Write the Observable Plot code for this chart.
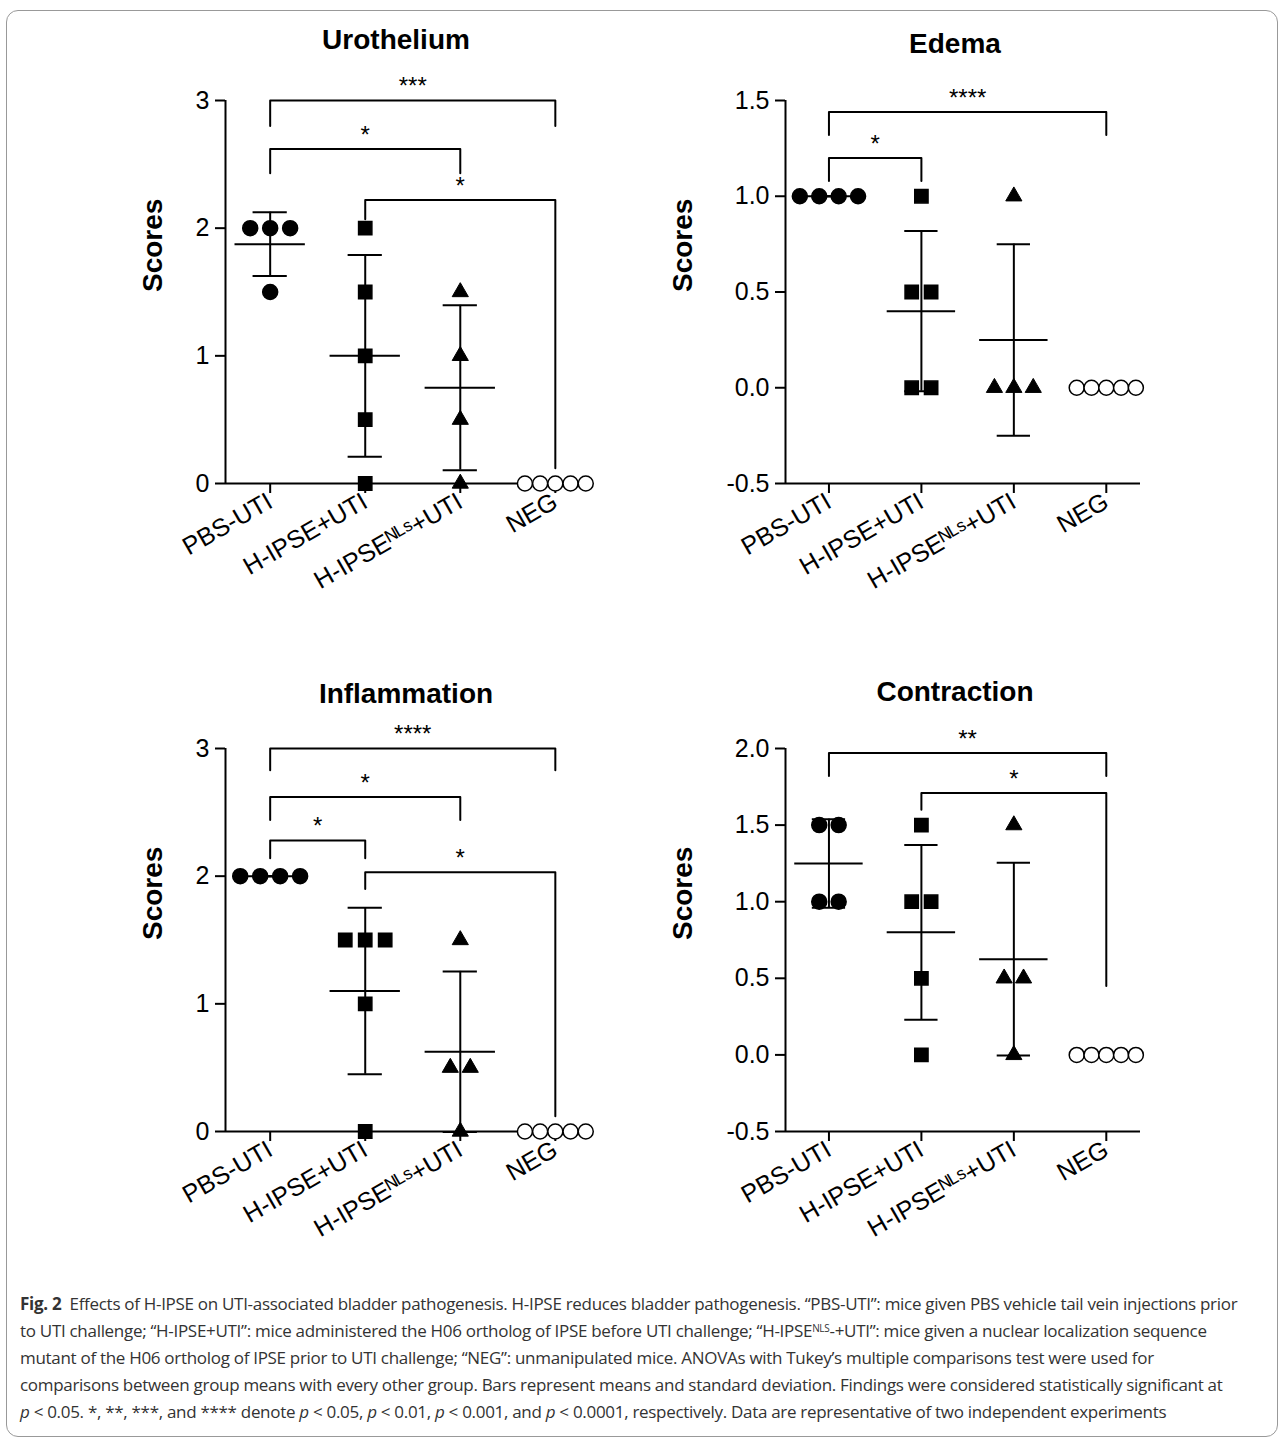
<!DOCTYPE html>
<html><head><meta charset="utf-8">
<script src="https://cdn.jsdelivr.net/npm/d3@7"></script>
<script src="https://cdn.jsdelivr.net/npm/@observablehq/plot@0.6"></script>
<style>
body{margin:0;background:#fff;font-family:"Liberation Sans",Arial,sans-serif;}
#page{position:relative;width:1282px;height:1445px;}
#frame{position:absolute;left:6px;top:10px;width:1272px;height:1427px;border:1px solid #999;border-radius:12px;box-sizing:border-box;}
.panel{position:absolute;}
.panel svg text{font-family:"Liberation Sans",Arial,sans-serif;}
.title{position:absolute;font-weight:bold;font-size:28px;text-align:center;width:400px;}
#cap{position:absolute;left:20px;top:1290px;width:1236px;font-family:"Open Sans",sans-serif;font-size:17px;line-height:27px;color:#333;letter-spacing:-0.3px;}
#cap sup{font-size:10px;line-height:0;vertical-align:5px;}
</style></head><body>
<div id="page"><div id="frame"></div>
<div id="cap"><b>Fig. 2</b>&nbsp; Effects of H-IPSE on UTI-associated bladder pathogenesis. H-IPSE reduces bladder pathogenesis. “PBS-UTI”: mice given PBS vehicle tail vein injections prior to UTI challenge; “H-IPSE+UTI”: mice administered the H06 ortholog of IPSE before UTI challenge; “H-IPSE<sup>NLS</sup>-+UTI”: mice given a nuclear localization sequence mutant of the H06 ortholog of IPSE prior to UTI challenge; “NEG”: unmanipulated mice. ANOVAs with Tukey’s multiple comparisons test were used for comparisons between group means with every other group. Bars represent means and standard deviation. Findings were considered statistically significant at <i>p</i>&nbsp;&lt;&nbsp;0.05. *, **, ***, and **** denote <i>p</i>&nbsp;&lt;&nbsp;0.05, <i>p</i>&nbsp;&lt;&nbsp;0.01, <i>p</i>&nbsp;&lt;&nbsp;0.001, and <i>p</i>&nbsp;&lt;&nbsp;0.0001, respectively. Data are representative of two independent experiments</div>
</div>
<script>
const groups = ["PBS-UTI", "H-IPSE+UTI", "H-IPSEᴺᴸˢ+UTI", "NEG"];
const symbols = ["circle", "square", "triangle", "circle"];

const urothelium = [[2, 2, 2, 1.5], [2, 1.5, 1, 0.5, 0], [1.5, 1, 0.5, 0], [0, 0, 0, 0, 0]];
const edema = [[1, 1, 1, 1], [1, 0.5, 0.5, 0, 0], [1, 0, 0, 0], [0, 0, 0, 0, 0]];
const inflammation = [[2, 2, 2, 2], [1.5, 1.5, 1.5, 1, 0], [1.5, 0.5, 0.5, 0], [0, 0, 0, 0, 0]];
const contraction = [[1.5, 1.5, 1, 1], [1.5, 1, 1, 0.5, 0], [1.5, 0.5, 0.5, 0], [0, 0, 0, 0, 0]];

// brackets: [from group, to group, bar y, left leg end, right leg end, label]
const uroBrackets = [[0, 3, 3.0, 2.8, 2.8, "***"], [0, 2, 2.62, 2.43, 2.43, "*"], [1, 3, 2.22, 2.07, 0.12, "*"]];
const edemaBrackets = [[0, 3, 1.44, 1.32, 1.32, "****"], [0, 1, 1.2, 1.08, 1.08, "*"]];
const inflBrackets = [[0, 3, 3.0, 2.83, 2.83, "****"], [0, 2, 2.62, 2.44, 2.44, "*"], [0, 1, 2.28, 2.14, 2.14, "*"], [1, 3, 2.03, 1.9, 0.12, "*"]];
const contrBrackets = [[0, 3, 1.97, 1.82, 1.82, "**"], [1, 3, 1.71, 1.6, 0.45, "*"]];

function panel(vals, brackets, yDomain, yTicks, fmt, opts) {
  const pts = [];
  vals.forEach((vs, g) => {
    const counts = d3.rollup(vs, v => v.length, v => v);
    const seen = new Map();
    vs.forEach(v => {
      const k = seen.get(v) || 0; seen.set(v, k + 1);
      const n = counts.get(v);
      const sp = g === 3 ? 0.16 : 0.21;
      pts.push({g, v, x: g + (k - (n - 1) / 2) * sp});
    });
  });
  const stats = vals.map((vs, g) => ({g, m: d3.mean(vs), sd: d3.deviation(vs)}));
  const bl = [], bt = [];
  brackets.forEach(([a, b, y, l1, l2, lab], i) => {
    bl.push({i, x: a, y: l1}, {i, x: a, y}, {i, x: b, y}, {i, x: b, y: l2});
    bt.push({x: (a + b) / 2, y, lab});
  });
  return Plot.plot({
    width: opts.width, height: 573,
    marginLeft: opts.ml, marginRight: opts.width - opts.ml - opts.pw, marginTop: 40, marginBottom: 150,
    style: {fontFamily: '"Liberation Sans", Arial, sans-serif', fontSize: "25px", overflow: "visible"},
    x: {domain: [-0.47, 3.37]},
    y: {domain: yDomain},
    symbol: {domain: [0, 1, 2, 3], range: symbols},
    marks: [
      Plot.axisY({ticks: yTicks, tickFormat: fmt, tickSize: 10, tickPadding: 6, strokeWidth: 2, fontSize: 25, label: null}),
      Plot.text(["Scores"], {frameAnchor: "left", dx: -opts.lo, rotate: -90, fontSize: 28, fontWeight: "bold"}),
      Plot.axisX({ticks: [0, 1, 2, 3], tickFormat: i => groups[i], tickSize: 10, tickRotate: -30, tickPadding: 6, strokeWidth: 2, fontSize: 25, label: null}),
      Plot.ruleY([yDomain[0]], {strokeWidth: 2}),
      Plot.ruleX([-0.47], {strokeWidth: 2}),
      Plot.ruleX(stats, {x: "g", y1: d => d.m - d.sd, y2: d => d.m + d.sd, strokeWidth: 2}),
      Plot.ruleY(stats, {y: "m", x1: d => d.g - 0.37, x2: d => d.g + 0.37, strokeWidth: 2}),
      Plot.ruleY(stats, {y: d => d.m + d.sd, x1: d => d.g - 0.18, x2: d => d.g + 0.18, strokeWidth: 2}),
      Plot.ruleY(stats, {y: d => d.m - d.sd, x1: d => d.g - 0.18, x2: d => d.g + 0.18, strokeWidth: 2}),
      Plot.dot(pts.filter(d => d.g !== 2), {x: "x", y: "v", symbol: "g", r: 7.5, fill: d => d.g === 3 ? "white" : "black", stroke: "black", strokeWidth: 1.5}),
      Plot.dot(pts.filter(d => d.g === 2), {x: "x", y: "v", symbol: "g", r: 6, fill: "black", stroke: "black", strokeWidth: 1}),
      Plot.line(bl, {x: "x", y: "y", z: "i", strokeWidth: 2, curve: "linear"}),
      Plot.text(bt, {x: "x", y: "y", text: "lab", dy: -14, fontSize: 24})
    ]
  });
}

function place(title, chart, left, top, titleLeft, titleTop) {
  const d = document.createElement("div"); d.className = "panel";
  d.style.left = left + "px"; d.style.top = top + "px";
  d.appendChild(chart);
  document.getElementById("page").appendChild(d);
  const t = document.createElement("div"); t.className = "title"; t.textContent = title;
  t.style.left = (titleLeft - 200) + "px"; t.style.top = titleTop + "px";
  document.getElementById("page").appendChild(t);
}

const f0 = d => d3.format("d")(d);
const f1 = d => d3.format(".1f")(d).replace("−", "-");
place("Urothelium", panel(urothelium, uroBrackets, [0, 3], [0, 1, 2, 3], f0, {width: 620, ml: 205, pw: 365, lo: 72}), 20, 60, 396, 24);
place("Edema", panel(edema, edemaBrackets, [-0.5, 1.5], [-0.5, 0, 0.5, 1, 1.5], f1, {width: 620, ml: 145, pw: 355, lo: 102}), 640, 60, 955, 28);
place("Inflammation", panel(inflammation, inflBrackets, [0, 3], [0, 1, 2, 3], f0, {width: 620, ml: 205, pw: 365, lo: 72}), 20, 708, 406, 678);
place("Contraction", panel(contraction, contrBrackets, [-0.5, 2], [-0.5, 0, 0.5, 1, 1.5, 2], f1, {width: 620, ml: 145, pw: 355, lo: 102}), 640, 708, 955, 676);
</script></body></html>
